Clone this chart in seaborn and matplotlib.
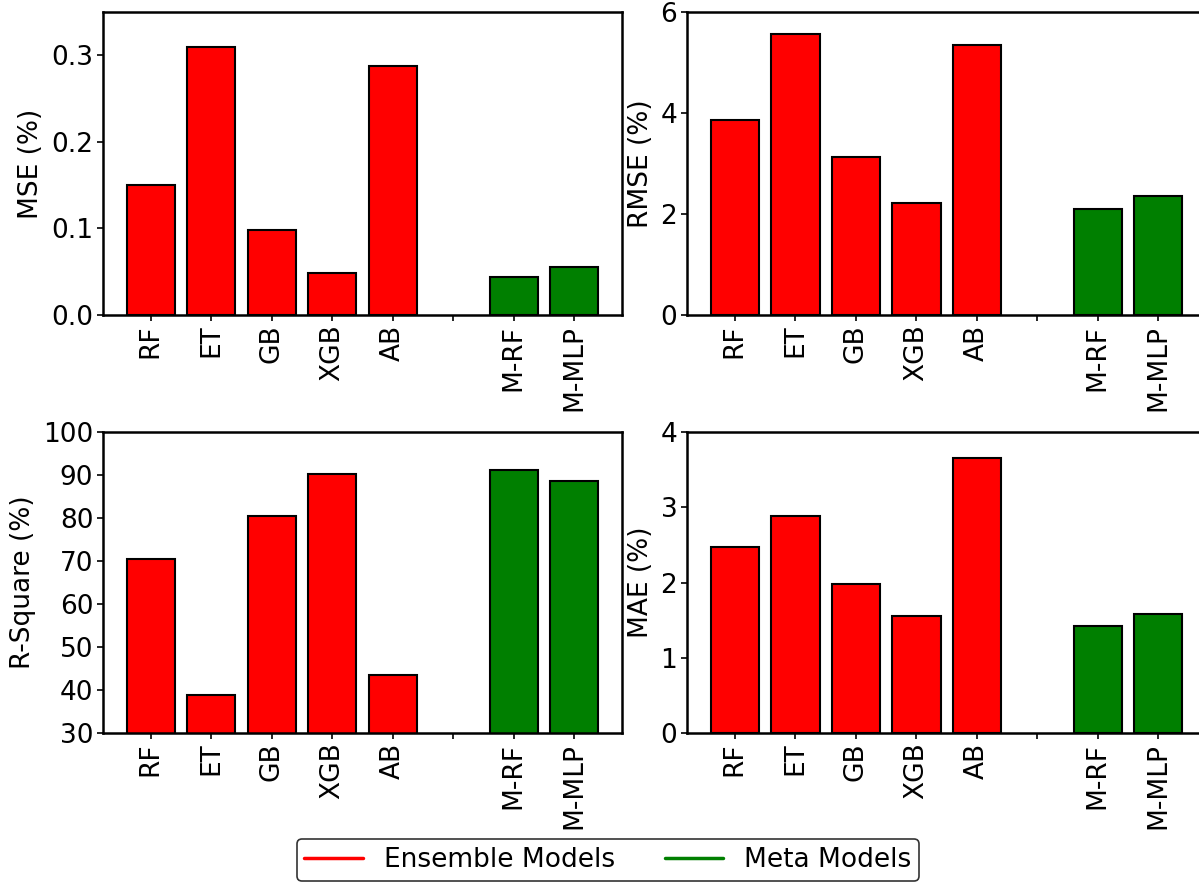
import matplotlib
matplotlib.use("Agg")
import matplotlib.pyplot as plt
from matplotlib.lines import Line2D
import seaborn as sns
import pandas as pd

models = ["RF", "ET", "GB", "XGB", "AB", "M-RF", "M-MLP"]
groups = ["Ensemble", "Ensemble", "Ensemble", "Ensemble", "Ensemble", "Meta", "Meta"]
order = ["RF", "ET", "GB", "XGB", "AB", " ", "M-RF", "M-MLP"]

mse = [0.150, 0.310, 0.098, 0.049, 0.287, 0.044, 0.055]
rmse = [3.86, 5.57, 3.13, 2.22, 5.35, 2.09, 2.35]
r2 = [70.4, 38.8, 80.5, 90.2, 43.5, 91.2, 88.7]
mae = [2.47, 2.89, 1.98, 1.56, 3.66, 1.42, 1.58]

palette = {"Ensemble": "#ff0000", "Meta": "#007f00"}

sns.set_style("ticks")
plt.rcParams["font.family"] = ["DejaVu Sans"]
plt.rcParams.update({"text.color": "black", "axes.labelcolor": "black",
                     "xtick.color": "black", "ytick.color": "black"})

FS = 19

fig = plt.figure(figsize=(11.99, 8.84), dpi=100)

W = 0.4329
positions = {
    "mse": [0.0859, 0.6437, W, 0.3428],
    "rmse": [0.5730, 0.6437, W, 0.3428],
    "r2": [0.0859, 0.1708, W, 0.3405],
    "mae": [0.5730, 0.1708, W, 0.3405],
}

panels = [
    ("mse", mse, "MSE (%)", (0, 0.35), [0.0, 0.1, 0.2, 0.3], ["0.0", "0.1", "0.2", "0.3"]),
    ("rmse", rmse, "RMSE (%)", (0, 6), [0, 2, 4, 6], ["0", "2", "4", "6"]),
    ("r2", r2, "R-Square (%)", (30, 100), [30, 40, 50, 60, 70, 80, 90, 100],
     ["30", "40", "50", "60", "70", "80", "90", "100"]),
    ("mae", mae, "MAE (%)", (0, 4), [0, 1, 2, 3, 4], ["0", "1", "2", "3", "4"]),
]

for key, vals, ylabel, ylim, yt, ytl in panels:
    ax = fig.add_axes(positions[key])
    df = pd.DataFrame({"model": models, "value": vals, "group": groups})
    sns.barplot(data=df, x="model", y="value", hue="group", order=order,
                palette=palette, dodge=False, width=0.8, edgecolor="black",
                linewidth=1.5, legend=False, ax=ax, saturation=1)
    ax.set_xlim(-0.79, 7.79)
    ax.set_ylim(*ylim)
    ax.set_yticks(yt)
    ax.set_yticklabels(ytl)
    ax.set_xticks(range(len(order)))
    ax.set_xticklabels(order, rotation=90)
    ax.set_xlabel("")
    ax.set_ylabel(ylabel, fontsize=FS, labelpad=5, color="black")
    ax.tick_params(axis="both", labelsize=FS, width=1.2, length=4, color="black",
                   labelcolor="black", pad=3)
    for s in ax.spines.values():
        s.set_visible(True)
        s.set_linewidth(1.8)
        s.set_color("black")

handles = [Line2D([0], [0], color="#ff0000", lw=2.5),
           Line2D([0], [0], color="#007f00", lw=2.5)]
leg = fig.legend(handles, ["Ensemble Models", "Meta Models"], loc="center",
                 bbox_to_anchor=(0.507, 0.027), ncol=2, fontsize=FS,
                 frameon=True, fancybox=True, edgecolor="black",
                 columnspacing=1.9, handlelength=2.2, borderpad=0.3)
leg.get_frame().set_linewidth(1.2)
for t in leg.get_texts():
    t.set_color("black")

fig.savefig("out.png", dpi=100)
